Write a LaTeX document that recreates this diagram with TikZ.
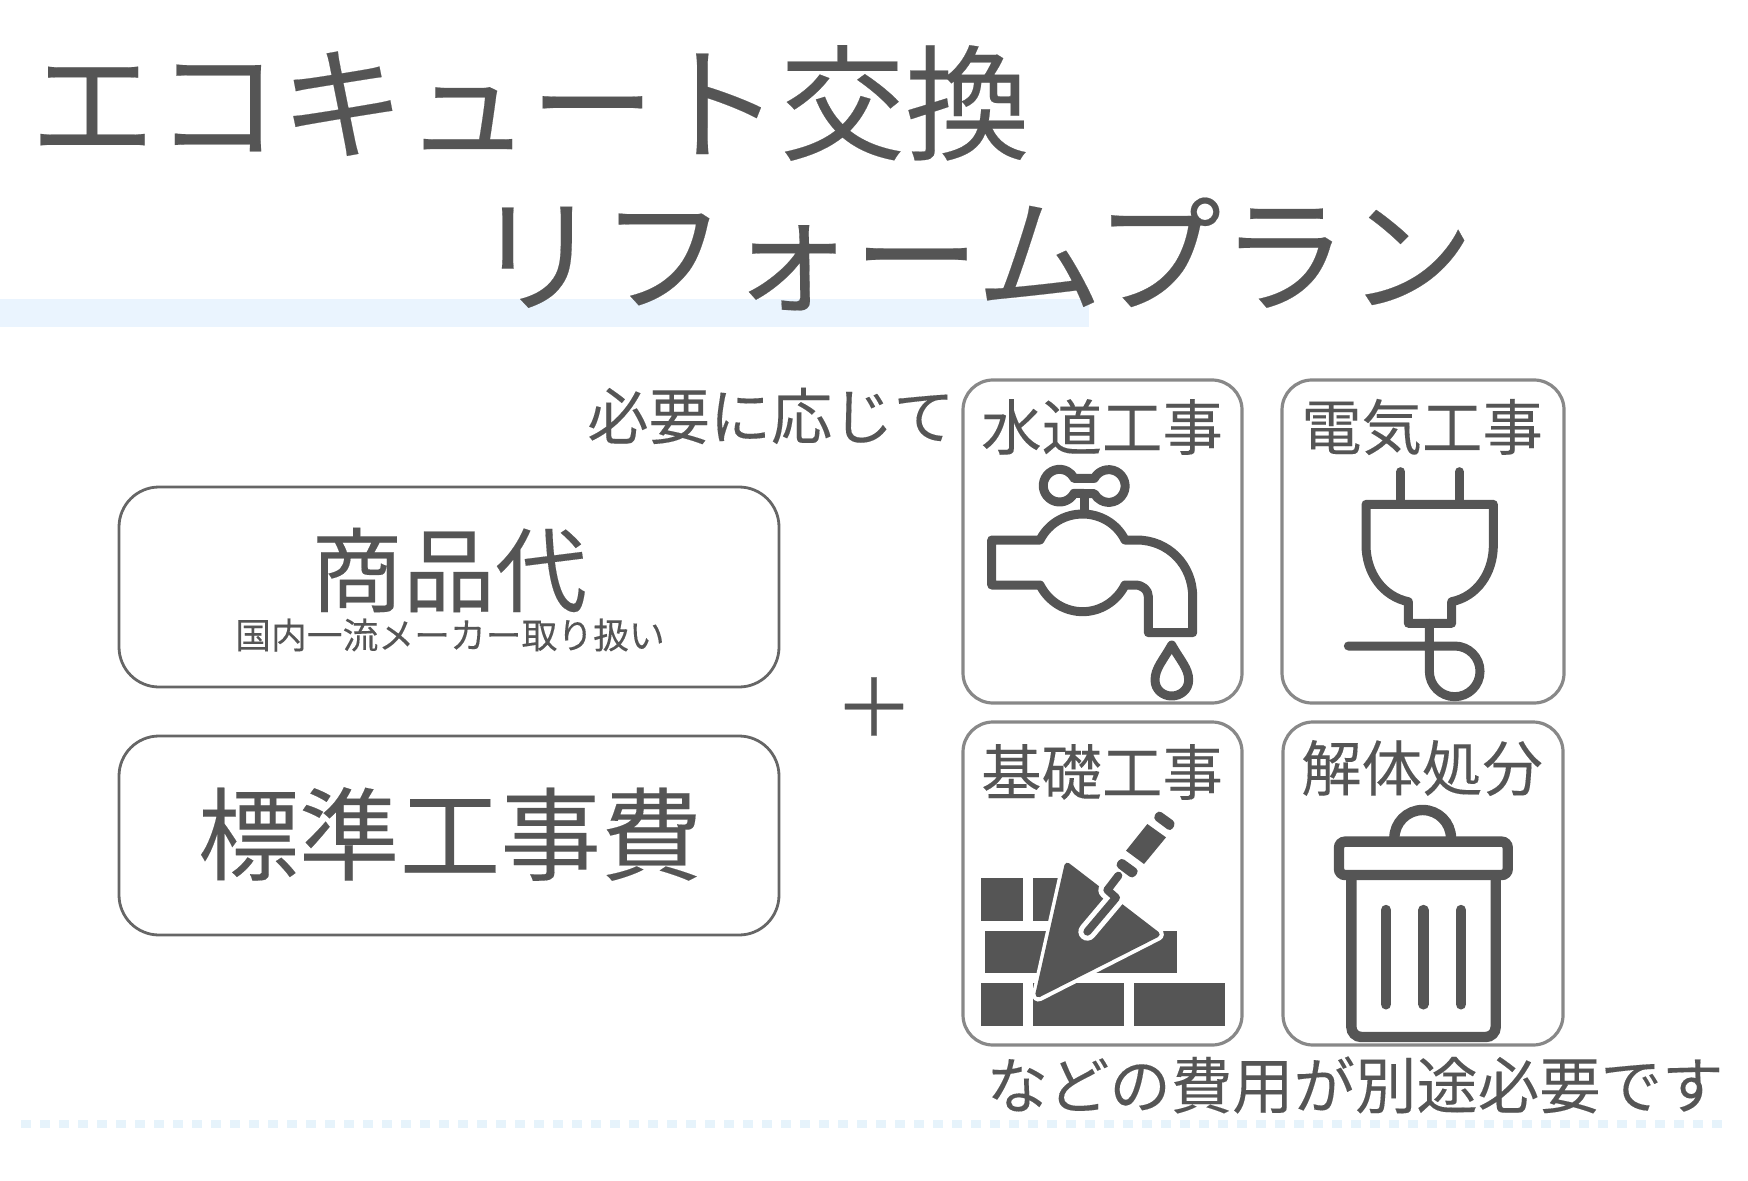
\documentclass[tikz,border=0pt]{standalone}
\usepackage{xcolor}
\usepackage{fontspec}
\usepackage{tikz}
\newfontfamily\cjk[FakeBold=0.15]{Noto Sans CJK JP}
\definecolor{inkgray}{HTML}{555555}
\definecolor{framegray}{HTML}{888888}
\definecolor{bandblue}{HTML}{EAF4FE}
\definecolor{dotblue}{HTML}{E6F3FB}
\tikzset{
  label/.style={inner sep=0pt,text=inkgray,font=\cjk},
  pricebox/.style={draw=inkgray!90,line width=1.4pt,rounded corners=20pt},
  workbox/.style={draw=framegray,line width=1.6pt,rounded corners=15pt},
  iconline/.style={draw=inkgray,line width=4.5pt,line join=round,line cap=round},
  iconzoom/.style={x=0.16667pt,y=-0.16667pt},
}
\begin{document}
\begin{tikzpicture}[x=0.5pt,y=-0.5pt]
\useasboundingbox (0,0) rectangle (1748,1181);
%帯
\fill[bandblue] (0,299) rectangle (1089,327);
\draw[dotblue,line width=4pt,dash pattern=on 5.2pt off 4.3pt] (21,1124) -- (1727,1124);
%タイトル
\node[label,font=\cjk\fontsize{62.5pt}{62.5pt}\selectfont] (title1) at (530,103) {エコキュート交換};
\node[label,font=\cjk\fontsize{63.2pt}{63.2pt}\selectfont] (title2) at (974,254) {リフォームプラン};
%左の枠
\draw[pricebox] (119,487) rectangle (779,687);
\draw[pricebox] (119,736) rectangle (779,935);
\node[label,font=\cjk\fontsize{46pt}{46pt}\selectfont] (goods) at (449,570) {商品代};
\node[label,font=\cjk\fontsize{17.9pt}{17.9pt}\selectfont] (brand) at (450,635) {国内一流メーカー取り扱い};
\node[label,font=\cjk\fontsize{50.4pt}{50.4pt}\selectfont] (standard) at (450,834) {標準工事費};
\node[label,font=\cjk\fontsize{40pt}{40pt}\selectfont] (plus) at (874,707) {＋};
\node[label,font=\cjk\fontsize{30.6pt}{30.6pt}\selectfont] (need) at (771,416) {必要に応じて};
\node[label,font=\cjk\fontsize{30.7pt}{30.7pt}\selectfont] (extra) at (1355,1085) {などの費用が別途必要です};
%右の枠
\draw[workbox] (963,380) rectangle (1242,703);
\draw[workbox] (1282,380) rectangle (1564,703);
\draw[workbox] (963,722) rectangle (1242,1045);
\draw[workbox] (1283,722) rectangle (1563,1045);
\node[label,font=\cjk\fontsize{30.2pt}{30.2pt}\selectfont] (water) at (1102,427) {水道工事};
\node[label,font=\cjk\fontsize{30.2pt}{30.2pt}\selectfont] (power) at (1422,427) {電気工事};
\node[label,font=\cjk\fontsize{30.2pt}{30.2pt}\selectfont] (base) at (1102,772) {基礎工事};
\node[label,font=\cjk\fontsize{30.2pt}{30.2pt}\selectfont] (demo) at (1422,768) {解体処分};
%蛇口
\begin{scope}[shift={(950,370)},iconzoom]
\draw[iconline] (372,325) -- (433,325) arc[start angle=208,end angle=512,radius=49] -- (372,370) arc[start angle=28,end angle=332,radius=49] -- cycle;
\draw[iconline,line cap=butt] (403,372) -- (403,432);
\draw[iconline] (125,510) -- (270,510) .. controls (295,460) and (345,432) .. (398,432) .. controls (450,432) and (500,460) .. (525,510) -- (560,510) .. controls (655,510) and (728,585) .. (728,680) -- (728,788) -- (595,788) -- (595,680) .. controls (595,660) and (578,645) .. (555,645) -- (525,645) .. controls (500,695) and (450,725) .. (398,725) .. controls (345,725) and (295,695) .. (270,645) -- (125,645) -- cycle;
\draw[iconline] (665,825) .. controls (640,870) and (615,895) .. (615,930) .. controls (615,960) and (640,978) .. (665,978) .. controls (690,978) and (716,960) .. (716,930) .. controls (716,895) and (690,870) .. (665,825) -- cycle;
\end{scope}
%プラグ
\begin{scope}[shift={(1270,370)},iconzoom]
\draw[iconline] (392,305) -- (392,400);
\draw[iconline] (568,305) -- (568,400);
\draw[iconline] (288,403) -- (670,403) -- (670,525) .. controls (670,610) and (620,680) .. (545,695) -- (545,760) -- (415,760) -- (415,695) .. controls (340,680) and (288,610) .. (288,525) -- cycle;
\draw[iconline] (235,828) -- (554,828) arc[start angle=270,end angle=540,radius=76] -- (478,760);
\end{scope}
%レンガとこて
\begin{scope}[shift={(950,715)},iconzoom]
\fill[inkgray] (92,490) rectangle (218,617);
\fill[inkgray] (249,490) rectangle (330,617);
\fill[inkgray] (104,649) rectangle (681,775);
\fill[inkgray] (92,805) rectangle (218,932);
\fill[inkgray] (249,805) rectangle (522,932);
\fill[inkgray] (552,805) rectangle (825,932);
\draw[white,line width=6.5pt,line join=round] (352,450) -- (622,658) -- (265,840) -- cycle;
\fill[inkgray,draw=inkgray,line width=3pt,line join=round] (352,452) -- (620,658) -- (265,838) -- cycle;
\draw[white,line width=9pt,line cap=round,line join=round] (412,650) -- (498,548) -- (472,525) -- (488,503);
\draw[inkgray,line width=4pt,line cap=round,line join=round] (412,650) -- (498,548) -- (472,525) -- (505,482);
\fill[inkgray,rounded corners=2pt] (513,427) -- (568,467) -- (548,492) -- (495,452) -- cycle;
\fill[inkgray] (592,327) -- (648,367) -- (582,447) -- (528,407) -- cycle;
\fill[inkgray,rounded corners=2pt] (625,285) -- (678,323) -- (662,350) -- (608,310) -- cycle;
\end{scope}
%ごみ箱
\begin{scope}[shift={(1270,715)},iconzoom]
\draw[inkgray,line width=5.2pt] (373,370) arc[start angle=180,end angle=360,radius=85];
\draw[inkgray,line width=5.2pt,rounded corners=3pt] (207,380) rectangle (713,480);
\draw[inkgray,line width=5.2pt,rounded corners=5pt] (244,480) -- (244,966) -- (677,966) -- (677,480);
\foreach \barx in {348,460,573}
  \draw[inkgray,line width=5.2pt,line cap=round] (\barx,585) -- (\barx,868);
\end{scope}
\end{tikzpicture}
\end{document}
